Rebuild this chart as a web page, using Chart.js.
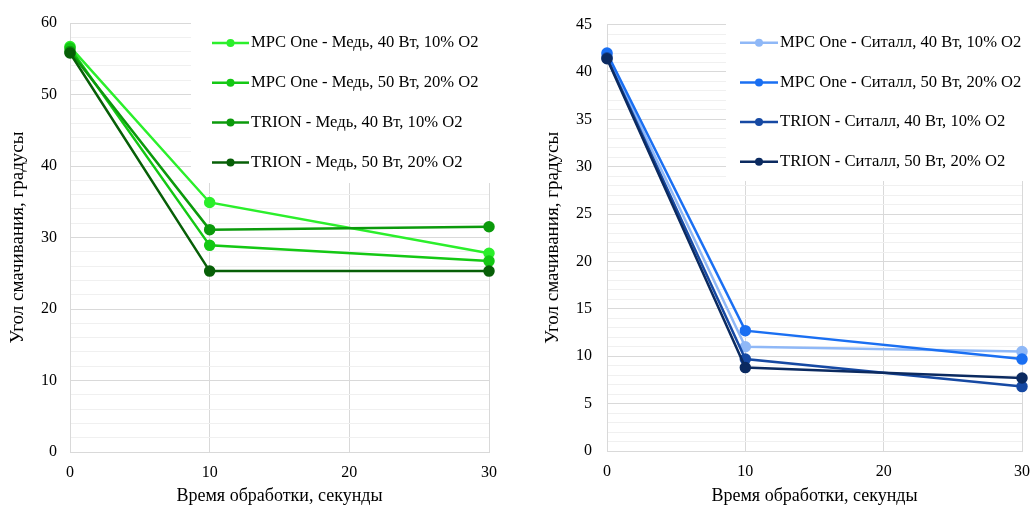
<!DOCTYPE html>
<html>
<head>
<meta charset="utf-8">
<script src="https://cdn.jsdelivr.net/npm/chart.js@4"></script>
<style>
html, body { margin: 0; padding: 0; background: #fff; }
#wrap { position: relative; width: 1032px; height: 505px; }
.panel { position: absolute; top: 0; height: 505px; }
</style>
</head>
<body>
<div id="wrap">
    <div class="panel" style="left:0;width:520px"><canvas id="copper-chart"></canvas></div>
    <div class="panel" style="left:520px;width:512px"><canvas id="sitall-chart"></canvas></div>
</div>
<script>
// time of treatment, seconds
const times = [0, 10, 30];

const copperLabels = [
    'MPC One - Медь, 40 Вт, 10% O2',
    'MPC One - Медь, 50 Вт, 20% O2',
    'TRION - Медь, 40 Вт, 10% O2',
    'TRION - Медь, 50 Вт, 20% O2'
];
const copperMpc40 = [56.7, 34.9, 27.8];
const copperMpc50 = [56.5, 28.9, 26.7];
const copperTrion40 = [56.0, 31.1, 31.5];
const copperTrion50 = [55.8, 25.3, 25.3];

const sitallLabels = [
    'MPC One - Ситалл, 40 Вт, 10% O2',
    'MPC One - Ситалл, 50 Вт, 20% O2',
    'TRION - Ситалл, 40 Вт, 10% O2',
    'TRION - Ситалл, 50 Вт, 20% O2'
];
const sitallMpc40 = [41.8, 11.0, 10.5];
const sitallMpc50 = [42.0, 12.7, 9.7];
const sitallTrion40 = [41.5, 9.7, 6.8];
const sitallTrion50 = [41.4, 8.8, 7.7];

const copperTicks = [0, 10, 20, 30, 40, 50, 60];
const sitallTicks = [0, 5, 10, 15, 20, 25, 30, 35, 40, 45];
const timeTicks = [0, 10, 20, 30];

const copperColors = ['#2bef2b', '#14c814', '#0b9a0b', '#075f07'];
const sitallColors = ['#8fb8f7', '#1a6ff2', '#1649a3', '#0b2a60'];

const serif = '"Liberation Serif", "Times New Roman", serif';

// legend drawn inside the plot on a white box, like the original
const insideLegend = {
    id: 'insideLegend',
    beforeDatasetsDraw(chart, args, opts) {
        const ctx = chart.ctx;
        ctx.save();
        ctx.fillStyle = '#fff';
        ctx.fillRect(opts.boxLeft, 0, chart.width - opts.boxLeft, opts.boxBottom);
        ctx.font = '16.6px ' + serif;
        ctx.textBaseline = 'middle';
        chart.data.datasets.forEach((ds, i) => {
            const y = opts.firstRow + i * opts.rowGap;
            ctx.strokeStyle = ds.borderColor;
            ctx.lineWidth = 2.5;
            ctx.beginPath();
            ctx.moveTo(opts.lineLeft, y);
            ctx.lineTo(opts.lineLeft + opts.lineLen, y);
            ctx.stroke();
            ctx.fillStyle = ds.borderColor;
            ctx.beginPath();
            ctx.arc(opts.lineLeft + opts.lineLen / 2, y, 4, 0, Math.PI * 2);
            ctx.fill();
            ctx.fillStyle = '#000';
            ctx.fillText(ds.label, opts.lineLeft + opts.lineLen + 2, y);
        });
        ctx.restore();
    }
};

function makeDataset(label, values, color, i) {
    return {
        label: label,
        data: times.map((t, k) => ({ x: t, y: values[k] })),
        borderColor: color,
        backgroundColor: color,
        borderWidth: 2.5,
        pointRadius: 4.5,
        pointHoverRadius: 4.5,
        clip: false,
        order: 3 - i
    };
}

function makeOptions(yMax, yStep, majorTicks, yWidth, xHeight, pad, titlePad, tickPad, legend) {
    return {
        responsive: true,
        maintainAspectRatio: false,
        animation: false,
        layout: { padding: pad },
        plugins: {
            legend: { display: false },
            tooltip: { enabled: false },
            insideLegend: legend
        },
        scales: {
            x: {
                type: 'linear',
                min: 0,
                max: 30,
                afterBuildTicks: scale => { scale.ticks = timeTicks.map(v => ({ value: v })); },
                afterFit: scale => {
                    scale.height = xHeight;
                    scale.paddingLeft = 0;
                    scale.paddingRight = 0;
                },
                grid: { color: '#d9d9d9', drawTicks: false },
                border: { color: '#d9d9d9' },
                ticks: { padding: 11, color: '#000', font: { family: serif, size: 16 } },
                title: {
                    display: true,
                    text: 'Время обработки, секунды',
                    color: '#000',
                    font: { family: serif, size: 18, lineHeight: 1 },
                    padding: { top: 0, bottom: 0 }
                }
            },
            y: {
                min: 0,
                max: yMax,
                ticks: {
                    stepSize: yStep,
                    autoSkip: false,
                    padding: tickPad,
                    color: '#000',
                    font: { family: serif, size: 16 },
                    callback: v => majorTicks.includes(v) ? v : ''
                },
                afterFit: scale => { scale.width = yWidth; },
                grid: {
                    drawTicks: false,
                    color: c => majorTicks.includes(c.tick.value) ? '#d9d9d9' : '#f0f0f0'
                },
                border: { color: '#d9d9d9' },
                title: {
                    display: true,
                    text: 'Угол смачивания, градусы',
                    color: '#000',
                    font: { family: serif, size: 19 },
                    padding: { top: titlePad, bottom: 0 }
                }
            }
        }
    };
}

new Chart(document.getElementById('copper-chart'), {
    type: 'line',
    data: {
        datasets: [
            makeDataset(copperLabels[0], copperMpc40, copperColors[0], 0),
            makeDataset(copperLabels[1], copperMpc50, copperColors[1], 1),
            makeDataset(copperLabels[2], copperTrion40, copperColors[2], 2),
            makeDataset(copperLabels[3], copperTrion50, copperColors[3], 3)
        ]
    },
    options: makeOptions(60, 2, copperTicks, 70, 53, { top: 23, right: 31, left: 0, bottom: 0 }, 6.6, 13,
        { boxLeft: 191, boxBottom: 183, lineLeft: 212, lineLen: 37, firstRow: 43, rowGap: 39.8 }),
    plugins: [insideLegend]
});

new Chart(document.getElementById('sitall-chart'), {
    type: 'line',
    data: {
        datasets: [
            makeDataset(sitallLabels[0], sitallMpc40, sitallColors[0], 0),
            makeDataset(sitallLabels[1], sitallMpc50, sitallColors[1], 1),
            makeDataset(sitallLabels[2], sitallTrion40, sitallColors[2], 2),
            makeDataset(sitallLabels[3], sitallTrion50, sitallColors[3], 3)
        ]
    },
    options: makeOptions(45, 1, sitallTicks, 87, 54, { top: 22, right: 10, left: 0, bottom: 0 }, 21.6, 15,
        { boxLeft: 206, boxBottom: 181, lineLeft: 220, lineLen: 38, firstRow: 42.7, rowGap: 39.7 }),
    plugins: [insideLegend]
});
</script>
</body>
</html>
